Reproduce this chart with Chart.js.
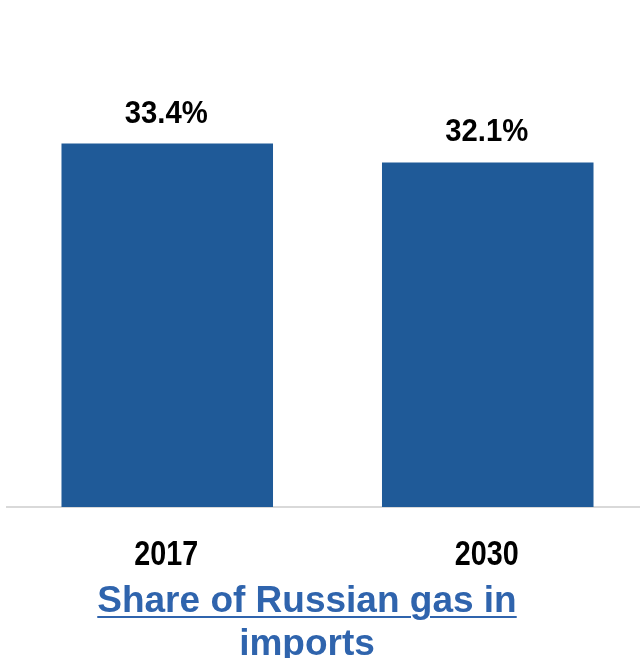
<!DOCTYPE html>
<html>
<head>
<meta charset="utf-8">
<script src="https://cdn.jsdelivr.net/npm/chart.js@4"></script>
<style>
  html, body { margin: 0; padding: 0; background: #ffffff; overflow: hidden; width: 640px; height: 658px; }
  #wrap { position: absolute; left: 0; top: 0; width: 648px; height: 658px; }
  #title { position: absolute; left: 0; top: 578px; width: 614px; text-align: center;
           font-family: 'Liberation Sans', Arial, sans-serif; font-weight: bold; font-size: 37px;
           line-height: 43px; color: #2F64AD; text-decoration: underline; text-decoration-thickness: 2px; text-underline-offset: 4px; }
</style>
</head>
<body>
<div id="wrap"><canvas id="c" width="648" height="658"></canvas></div>
<div id="title">Share of Russian gas in<br>imports</div>
<script>
const categories = ['2017', '2030'];
const shareValues = [33.4, 32.1];
const valueLabels = ['33.4%', '32.1%'];

const fontFam = "'Liberation Sans', Arial, sans-serif";

// Draws condensed (narrow-style) text by scaling horizontally
function drawNarrow(ctx, text, x, y, size, sx) {
  ctx.save();
  ctx.font = 'bold ' + size + 'px ' + fontFam;
  ctx.fillStyle = '#000000';
  ctx.textAlign = 'center';
  ctx.textBaseline = 'alphabetic';
  ctx.translate(x, y);
  ctx.scale(sx, 1);
  ctx.fillText(text, 0, 0);
  ctx.restore();
}

const labelPlugin = {
  id: 'labelPlugin',
  afterDraw(chart) {
    const ctx = chart.ctx;
    const meta = chart.getDatasetMeta(0);
    const xScale = chart.scales.x;
    meta.data.forEach((bar, i) => {
      drawNarrow(ctx, valueLabels[i], bar.x - 1, bar.y - 21, 32, 0.915);
    });
    categories.forEach((cat, i) => {
      const x = xScale.getPixelForValue(i);
      drawNarrow(ctx, cat, x - 1, chart.chartArea.bottom + 58, 35, 0.82);
    });
  }
};

new Chart(document.getElementById('c'), {
  type: 'bar',
  data: {
    labels: categories,
    datasets: [{
      data: shareValues,
      backgroundColor: '#1F5A98',
      borderWidth: 0,
      barPercentage: 0.66,
      categoryPercentage: 1.0
    }]
  },
  options: {
    responsive: false,
    animation: false,
    layout: { padding: { left: 7, right: 0, top: 0, bottom: 151 } },
    plugins: { legend: { display: false }, tooltip: { enabled: false }, title: { display: false } },
    scales: {
      x: {
        grid: { display: false, drawTicks: false },
        border: { display: true, color: '#D9D9D9', width: 2 },
        ticks: { display: false }
      },
      y: {
        display: false,
        min: 8.5,
        max: 43.23
      }
    }
  },
  plugins: [labelPlugin]
});
</script>
</body>
</html>
